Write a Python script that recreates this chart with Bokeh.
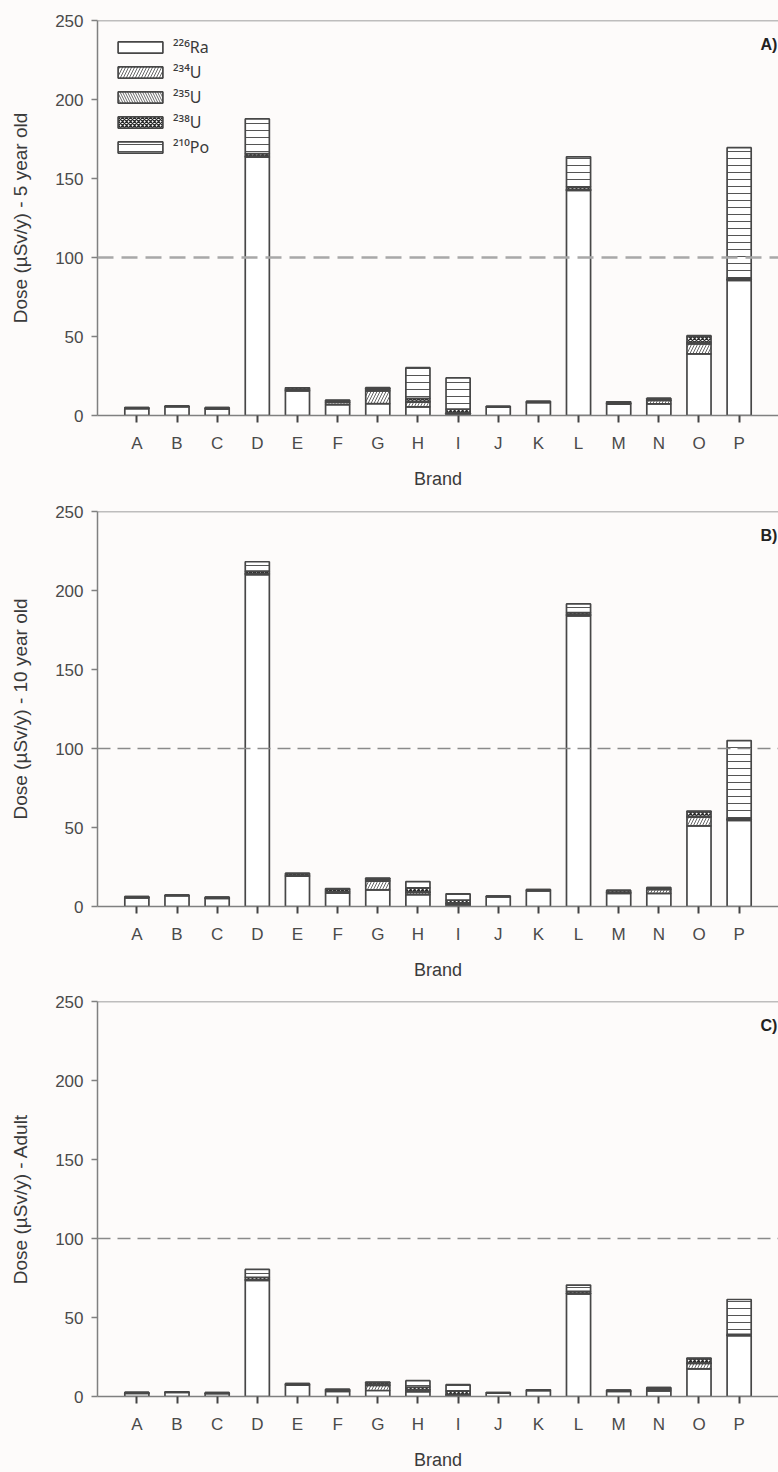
from bokeh.plotting import figure
from bokeh.models import FactorRange, Range1d, Span, Label, FixedTicker, ColumnDataSource
from bokeh.layouts import column
from bokeh.embed import file_html
from bokeh.resources import INLINE

brands = list("ABCDEFGHIJKLMNOP")
nuclides = ["Ra226", "U234", "U235", "U238", "Po210"]
legend_labels = ["²²⁶Ra", "²³⁴U", "²³⁵U", "²³⁸U", "²¹⁰Po"]
y_ticks = [0, 50, 100, 150, 200, 250]
y_max = 250
limit = 100

# Panel A - 5 year old
ra226_5y = [4.3, 5.6, 4.2, 163.5, 15.5, 6.8, 7.5, 5.5, 0.5, 5.5, 8.3, 142.5, 7.2, 7.3, 39.0, 85.5]
u234_5y  = [0.3, 0.2, 0.2, 0.5, 0.5, 1.5, 8.0, 3.0, 1.0, 0.0, 0.0, 0.5, 0.5, 2.3, 6.3, 0.5]
u235_5y  = [0.1, 0.0, 0.0, 0.2, 0.2, 0.2, 0.5, 0.5, 0.3, 0.0, 0.0, 0.2, 0.0, 0.2, 1.0, 0.2]
u238_5y  = [0.3, 0.2, 0.6, 1.5, 1.3, 1.0, 1.2, 1.8, 2.2, 0.3, 0.6, 1.5, 1.0, 1.0, 3.7, 0.8]
po210_5y = [0.0, 0.0, 0.0, 22.0, 0.0, 0.2, 0.4, 19.5, 19.8, 0.0, 0.0, 19.0, 0.0, 0.0, 0.5, 82.5]

# Panel B - 10 year old
ra226_10y = [5.5, 6.8, 5.2, 210.0, 19.2, 8.5, 10.5, 7.5, 1.0, 6.3, 10.0, 184.0, 8.3, 8.3, 51.0, 54.5]
u234_10y  = [0.3, 0.2, 0.2, 0.5, 0.5, 1.0, 5.5, 1.5, 1.0, 0.0, 0.0, 0.5, 0.6, 2.5, 5.5, 0.5]
u235_10y  = [0.1, 0.0, 0.0, 0.2, 0.0, 0.0, 0.5, 0.3, 0.3, 0.0, 0.0, 0.2, 0.0, 0.0, 0.6, 0.2]
u238_10y  = [0.3, 0.2, 0.6, 1.5, 1.3, 1.5, 1.2, 2.5, 1.7, 0.3, 0.7, 1.3, 1.3, 1.2, 3.0, 0.6]
po210_10y = [0.0, 0.0, 0.0, 6.0, 0.0, 0.3, 0.3, 4.0, 4.0, 0.0, 0.0, 5.5, 0.0, 0.0, 0.3, 49.2]

# Panel C - Adult
ra226_ad = [2.0, 2.6, 2.0, 73.5, 7.3, 3.2, 3.8, 3.0, 0.5, 2.3, 3.8, 65.0, 3.2, 3.6, 17.5, 38.5]
u234_ad  = [0.2, 0.1, 0.0, 0.3, 0.2, 0.5, 3.2, 1.2, 0.6, 0.0, 0.0, 0.2, 0.3, 1.2, 3.5, 0.3]
u235_ad  = [0.05, 0.0, 0.0, 0.1, 0.0, 0.0, 0.3, 0.2, 0.2, 0.0, 0.0, 0.1, 0.0, 0.0, 0.3, 0.1]
u238_ad  = [0.3, 0.2, 0.4, 1.5, 0.6, 0.8, 1.5, 1.6, 2.2, 0.2, 0.4, 1.2, 0.6, 0.9, 2.7, 0.5]
po210_ad = [0.0, 0.0, 0.0, 5.0, 0.0, 0.0, 0.3, 4.0, 4.0, 0.0, 0.0, 4.0, 0.0, 0.0, 0.3, 22.0]

BG = "#fdfbfa"
FONT = "Liberation Sans"
hatch_patterns = [None, "/", "\\", "x", "-"]
hatch_scales = [6, 6, 5, 4, 7]
hatch_colors = ["#666666", "#666666", "#666666", "#2a2a2a", "#555555"]
hatch_weights = [1.0, 1.0, 1.0, 1.3, 1.0]


def make_panel(vals, ylabel, tag, with_legend, dash, dash_color, dash_width, top_border):
    src = ColumnDataSource(dict(brand=brands, Ra226=vals[0], U234=vals[1], U235=vals[2],
                                U238=vals[3], Po210=vals[4]))
    p = figure(x_range=FactorRange(*brands, range_padding=0.48, range_padding_units="absolute"),
               y_range=Range1d(0, y_max), frame_width=681, frame_height=395,
               min_border_left=97, min_border_right=0, min_border_top=top_border,
               min_border_bottom=76,
               output_backend="svg", toolbar_location=None)
    p.background_fill_color = BG
    p.border_fill_color = BG
    p.outline_line_color = None
    p.grid.visible = False

    kw = dict(x="brand", width=0.6, source=src, fill_color="white",
              line_color="#474747", line_width=1.7,
              hatch_pattern=hatch_patterns, hatch_scale=hatch_scales,
              hatch_color=hatch_colors, hatch_weight=hatch_weights)
    if with_legend:
        kw["legend_label"] = legend_labels
    p.vbar_stack(nuclides, **kw)

    p.add_layout(Span(location=limit, dimension="width", line_dash=dash,
                      line_color=dash_color, line_width=dash_width))
    # top border of the frame
    p.add_layout(Span(location=y_max, dimension="width", line_color="#808080", line_width=1.5))

    p.add_layout(Label(x=16.45, y=235, text=tag, text_align="right", text_baseline="middle",
                       text_font=FONT, text_font_style="bold", text_font_size="16px",
                       text_color="#222222"))

    # axes
    ya = p.yaxis[0]
    ya.ticker = FixedTicker(ticks=y_ticks)
    ya.axis_label = ylabel
    ya.axis_label_text_font = FONT
    ya.axis_label_text_font_size = "19px"
    ya.axis_label_text_font_style = "normal"
    ya.axis_label_text_color = "#3a3a3a"
    ya.axis_label_standoff = 21
    ya.major_label_text_font = FONT
    ya.major_label_text_font_size = "17px"
    ya.major_label_text_color = "#4a4a4a"
    ya.major_label_standoff = 8
    ya.axis_line_color = "#808080"
    ya.axis_line_width = 1.5
    ya.major_tick_line_color = "#808080"
    ya.major_tick_line_width = 1.5
    ya.major_tick_out = 6
    ya.major_tick_in = 0
    ya.minor_tick_line_color = None

    xa = p.xaxis[0]
    xa.axis_label = "Brand"
    xa.axis_label_text_font = FONT
    xa.axis_label_text_font_size = "18px"
    xa.axis_label_text_font_style = "normal"
    xa.axis_label_text_color = "#3a3a3a"
    xa.axis_label_standoff = 13
    xa.major_label_text_font = FONT
    xa.major_label_text_font_size = "17px"
    xa.major_label_text_color = "#4a4a4a"
    xa.major_label_standoff = 11
    xa.axis_line_color = "#808080"
    xa.axis_line_width = 1.5
    xa.major_tick_line_color = "#444444"
    xa.major_tick_line_width = 2
    xa.major_tick_out = 7
    xa.major_tick_in = 0

    if with_legend:
        lg = p.legend[0]
        lg.location = (15, 257)
        lg.glyph_width = 56
        lg.glyph_height = 14
        lg.label_height = 14
        lg.spacing = 3
        lg.padding = 0
        lg.margin = 0
        lg.border_line_color = None
        lg.background_fill_alpha = 0
        lg.label_text_font = "Noto Sans"
        lg.label_text_font_size = "16px"
        lg.label_text_color = "#3a3a3a"
        lg.label_standoff = 5
    return p


pA = make_panel([ra226_5y, u234_5y, u235_5y, u238_5y, po210_5y],
                "Dose (µSv/y) - 5 year old", "A)", True, "16 8", "#a8a8a8", 2.5, 20)
pB = make_panel([ra226_10y, u234_10y, u235_10y, u238_10y, po210_10y],
                "Dose (µSv/y) - 10 year old", "B)", False, "13 7", "#8a8a8a", 1.7, 20)
pC = make_panel([ra226_ad, u234_ad, u235_ad, u238_ad, po210_ad],
                "Dose (µSv/y) - Adult", "C)", False, "13 7", "#8a8a8a", 1.7, 19)

layout = column(pA, pB, pC, spacing=0)
html = file_html(layout, INLINE)
html = html.replace("<body>", '<body style="margin:0;background:#fdfbfa;">')
open("out.html", "w").write(html)
